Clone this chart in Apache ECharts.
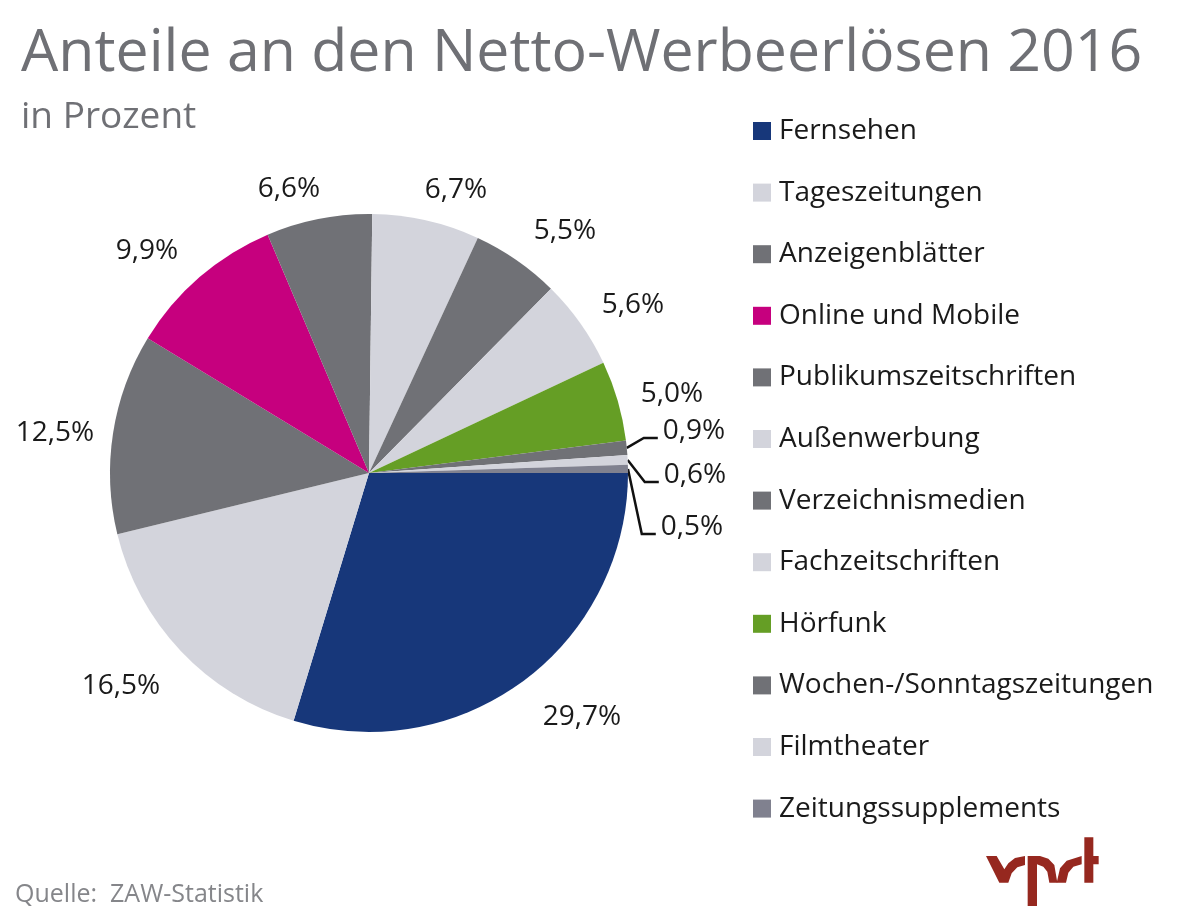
<!DOCTYPE html>
<html>
<head>
<meta charset="utf-8">
<title>Anteile an den Netto-Werbeerlösen 2016</title>
<script src="https://cdn.jsdelivr.net/npm/echarts@6/dist/echarts.min.js"></script>
<style>
html, body { margin: 0; padding: 0; background: #fff; }
#main { width: 1200px; height: 917px; }
</style>
</head>
<body>
<div id="main"></div>
<script>
var categories = ['Fernsehen', 'Tageszeitungen', 'Anzeigenblätter', 'Online und Mobile',
    'Publikumszeitschriften', 'Außenwerbung', 'Verzeichnismedien', 'Fachzeitschriften',
    'Hörfunk', 'Wochen-/Sonntagszeitungen', 'Filmtheater', 'Zeitungssupplements'];
var shares = [29.7, 16.5, 12.5, 9.9, 6.6, 6.7, 5.5, 5.6, 5.0, 0.9, 0.6, 0.5];
var colors = ['#17377a', '#d3d4dc', '#707176', '#c6007e', '#707176', '#d3d4dc',
    '#707176', '#d3d4dc', '#659e25', '#707176', '#d3d4dc', '#80818f'];

// hand placed label centres, same order as categories
var labelCentres = [[582, 717], [121, 686], [55, 433], [147, 251], [289, 189], [456, 190],
    [565, 231], [633, 305], [672, 394], [694, 431], [695, 475], [692, 527]];
var leaderFrom = 9; // the three small slices get a leader line

// vprt logo outline
var logoParts = [
    [[78, 108], [110, 108], [133, 148], [145, 130], [165, 114], [195, 108], [195, 135], [172, 142], [155, 160], [145, 188], [118, 188]],
    [[203, 108], [240, 108], [265, 116], [283, 135], [292, 188], [268, 188], [262, 155], [250, 140], [231, 133], [231, 258], [203, 258]],
    [[290, 188], [300, 145], [320, 122], [365, 108], [365, 133], [340, 140], [325, 158], [318, 188]],
    [[373, 52], [400, 52], [400, 108], [416, 108], [416, 133], [400, 133], [400, 188], [373, 188]]
];

var font = '"Open Sans", sans-serif';
var myChart = echarts.init(document.getElementById('main'), null, { renderer: 'canvas' });

var pieData = categories.map(function (name, i) {
    return {
        name: name,
        value: shares[i],
        itemStyle: { color: colors[i] },
        labelLine: { show: i >= leaderFrom }
    };
});

var option = {
    backgroundColor: '#fff',
    animation: false,
    title: [{
        text: 'Anteile an den Netto-Werbeerlösen 2016',
        left: 16, top: 20,
        textStyle: { fontFamily: font, fontSize: 59, fontWeight: 'normal', color: '#6f7075' }
    }, {
        text: 'in Prozent',
        left: 16, top: 94,
        textStyle: { fontFamily: font, fontSize: 37, fontWeight: 'normal', color: '#6f7075' }
    }, {
        text: 'Quelle:  ZAW-Statistik',
        left: 10, top: 877,
        textStyle: { fontFamily: font, fontSize: 25, fontWeight: 'normal', color: '#85868a' }
    }],
    legend: {
        orient: 'vertical',
        left: 753, top: 117,
        padding: 0,
        icon: 'rect',
        itemWidth: 18, itemHeight: 18,
        itemGap: 33.6,
        selectedMode: false,
        textStyle: { fontFamily: font, fontSize: 28, color: '#1a1a1a', padding: [0, 0, 0, 3] }
    },
    series: [{
        type: 'pie',
        center: [369, 473],
        radius: [0, 259],
        startAngle: 0,
        clockwise: true,
        data: pieData,
        label: {
            show: true,
            fontFamily: font,
            fontSize: 28,
            color: '#1a1a1a',
            overflow: 'none',
            formatter: function (p) { return p.value.toFixed(1).replace('.', ',') + '%'; }
        },
        labelLine: { show: true, lineStyle: { color: '#111', width: 2.5 } },
        labelLayout: function (p) {
            var c = labelCentres[p.dataIndex];
            var out = { x: c[0], y: c[1], align: 'center', verticalAlign: 'middle' };
            if (p.dataIndex >= leaderFrom && p.labelLinePoints) {
                var endX = c[0] - p.labelRect.width / 2 - 5;
                out.labelLinePoints = [p.labelLinePoints[0], [endX - 14, c[1] + 7], [endX, c[1] + 7]];
            }
            return out;
        }
    }],
    graphic: [{
        type: 'group',
        x: 960, y: 820,
        scaleX: 1 / 3, scaleY: 1 / 3,
        children: logoParts.map(function (pts) {
            return { type: 'polygon', shape: { points: pts }, style: { fill: '#96281f' } };
        })
    }]
};
myChart.setOption(option);
</script>
</body>
</html>
